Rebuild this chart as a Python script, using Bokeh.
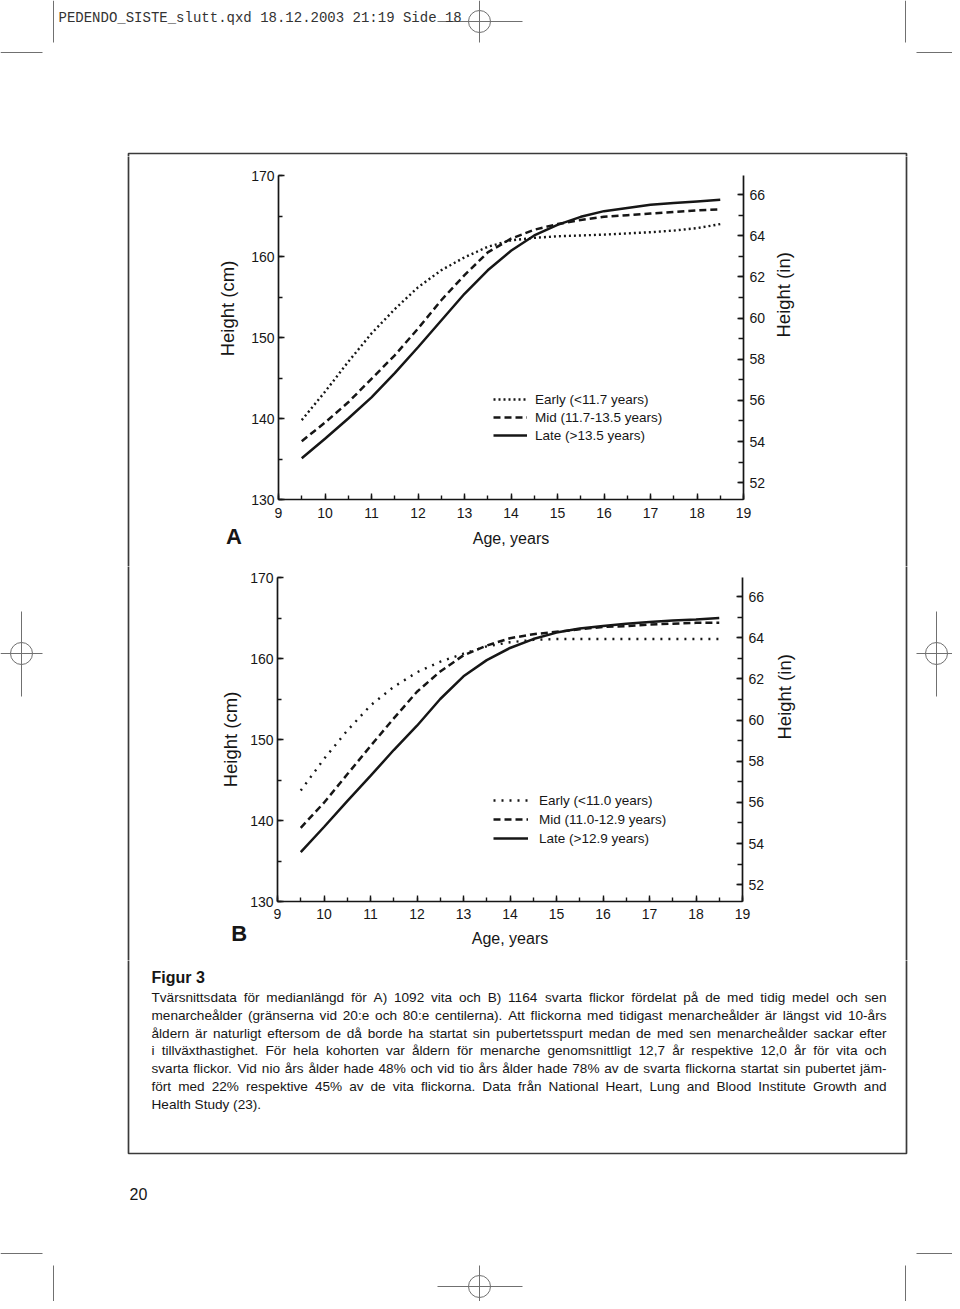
import math
from bokeh.plotting import figure
from bokeh.layouts import column, row
from bokeh.models import Range1d, LinearAxis, SingleIntervalTicker
from bokeh.embed import file_html
from bokeh.resources import INLINE
from bokeh.core.properties import value

# ---------------- data ----------------
ages = [9.5, 10.0, 10.5, 11.0, 11.5, 12.0, 12.5, 13.0, 13.5, 14.0,
        14.5, 15.0, 15.5, 16.0, 16.5, 17.0, 17.5, 18.0, 18.5]

# Panel A (white girls)
a_early = [139.8, 143.3, 147.0, 150.5, 153.5, 156.2, 158.3, 159.9, 161.2, 162.0,
           162.3, 162.5, 162.6, 162.7, 162.85, 163.0, 163.2, 163.5, 164.0]
a_mid = [137.2, 139.5, 142.0, 144.9, 147.8, 151.1, 154.6, 157.7, 160.5, 162.2,
         163.3, 164.0, 164.5, 164.9, 165.1, 165.3, 165.5, 165.7, 165.8]
a_late = [135.1, 137.5, 140.0, 142.6, 145.6, 148.8, 152.1, 155.4, 158.3, 160.7,
          162.6, 163.9, 164.9, 165.6, 166.0, 166.4, 166.6, 166.8, 167.0]

# Panel B (black girls)
b_early = [143.7, 147.6, 151.1, 154.2, 156.5, 158.3, 159.6, 160.6, 161.5, 162.0,
           162.3, 162.4, 162.4, 162.4, 162.4, 162.4, 162.4, 162.4, 162.4]
b_mid = [139.1, 142.2, 145.7, 149.2, 152.6, 155.9, 158.4, 160.4, 161.6, 162.5,
         163.0, 163.3, 163.6, 163.9, 164.0, 164.2, 164.3, 164.4, 164.4]
b_late = [136.1, 139.2, 142.4, 145.5, 148.7, 151.7, 155.0, 157.8, 159.8, 161.3,
          162.4, 163.2, 163.7, 164.0, 164.3, 164.5, 164.7, 164.8, 165.0]

legend_a = ["Early (<11.7 years)", "Mid (11.7-13.5 years)", "Late (>13.5 years)"]
legend_b = ["Early (<11.0 years)", "Mid (11.0-12.9 years)", "Late (>12.9 years)"]
panel_letters = ["A", "B"]

age_range = (9, 19)
cm_range = (130, 170)
CM_PER_INCH = 2.54
x_label = "Age, years"
y_label_cm = "Height (cm)"
y_label_in = "Height (in)"

header_text = "PEDENDO_SISTE_slutt.qxd  18.12.2003  21:19  Side 18"
caption_title = "Figur 3"
caption_lines = [
    "Tvärsnittsdata för medianlängd för A) 1092 vita och B) 1164 svarta flickor fördelat på de med tidig medel och sen",
    "menarcheålder (gränserna vid 20:e och 80:e centilerna). Att flickorna med tidigast menarcheålder är längst vid 10-års",
    "åldern är naturligt eftersom de då borde ha startat sin pubertetsspurt medan de med sen menarcheålder sackar efter",
    "i tillväxthastighet. För hela kohorten var åldern för menarche genomsnittligt 12,7 år respektive 12,0 år för vita och",
    "svarta flickor. Vid nio års ålder hade 48% och vid tio års ålder hade 78% av de svarta flickorna startat sin pubertet jäm-",
    "fört med 22% respektive 45% av de vita flickorna. Data från National Heart, Lung and Blood Institute Growth and",
    "Health Study (23).",
]
page_number = "20"

# ---------------- styling / page layout ----------------
FONT = "Liberation Sans"
INK = "#161616"
MARK = "#707070"
BOX_COLOR = "#3a3a3a"

BOX = (128, 153, 906, 1153)  # left, top, right, bottom (page px)
SEGMENTS = [(53, 0, 53, 42), (905, 0, 905, 42), (0, 52, 42, 52), (916, 52, 960, 52),
            (437, 21, 522, 21), (479, 0, 479, 42),
            (0, 653, 42, 653), (21, 611, 21, 696), (916, 653, 960, 653), (936, 611, 936, 696),
            (0, 1253, 42, 1253), (916, 1253, 960, 1253), (53, 1265, 53, 1309),
            (905, 1265, 905, 1309), (437, 1286, 522, 1286), (479, 1265, 479, 1309)]
CIRCLES = [(479, 21), (21, 653), (936, 653), (479, 1286)]

FULL_W = 952
TOP_H, ROWA_H, ROWB_H, BOTTOM_H = 156, 410, 394, 341
RIGHT_W = 132
FRAME_W, FRAME_H = 465, 324

# Arial / Liberation Sans advance widths (1/1000 em)
_W = {" ": 278, "!": 278, "%": 889, "(": 333, ")": 333, ",": 278, "-": 333, ".": 278,
      ":": 278, ";": 278, "<": 584, ">": 584,
      "A": 667, "B": 667, "C": 722, "D": 722, "E": 667, "F": 611, "G": 778, "H": 722,
      "I": 278, "J": 500, "K": 667, "L": 556, "M": 833, "N": 722, "O": 778, "P": 667,
      "Q": 778, "R": 722, "S": 667, "T": 611, "U": 722, "V": 667, "W": 944, "X": 667,
      "Y": 667, "Z": 611,
      "a": 556, "b": 556, "c": 500, "d": 556, "e": 556, "f": 278, "g": 556, "h": 556,
      "i": 222, "j": 222, "k": 500, "l": 222, "m": 833, "n": 556, "o": 556, "p": 556,
      "q": 556, "r": 333, "s": 500, "t": 278, "u": 556, "v": 500, "w": 722, "x": 500,
      "y": 500, "z": 500, "ä": 556, "å": 556, "ö": 556, "é": 556}


def text_em(s):
    return sum(_W.get(c, 556) for c in s) / 1000.0


def deco(x0, y0, w, h):
    p = figure(width=w, height=h, x_range=Range1d(x0, x0 + w), y_range=Range1d(y0 + h, y0),
               x_axis_type=None, y_axis_type=None, output_backend="svg", toolbar_location=None,
               min_border=0, outline_line_color=None, background_fill_color="white",
               border_fill_color="white", frame_align=False)
    p.quad(left=[BOX[0]], top=[BOX[1]], right=[BOX[2]], bottom=[BOX[3]],
           fill_color=None, line_color=BOX_COLOR, line_width=1.7)
    p.segment(x0=[s[0] for s in SEGMENTS], y0=[s[1] for s in SEGMENTS],
              x1=[s[2] for s in SEGMENTS], y1=[s[3] for s in SEGMENTS],
              line_color=MARK, line_width=1)
    p.scatter(x=[c[0] for c in CIRCLES], y=[c[1] for c in CIRCLES], size=22, marker="circle",
              fill_color=None, line_color=MARK, line_width=1)
    return p


def side_texts(p, title_xy, letter, letter_xy):
    # vertical axis title and panel letter, drawn in page coordinates
    p.text(x=[title_xy[0]], y=[title_xy[1]], text=[y_label_cm], angle=math.pi / 2,
           text_font=value(FONT), text_font_size="18.5px", text_color=INK,
           text_align="center", text_baseline="middle")
    p.text(x=[letter_xy[0]], y=[letter_xy[1]], text=[letter], text_font=value(FONT),
           text_font_style="bold", text_font_size="22px", text_color=INK,
           text_align="center", text_baseline="middle")


def style_axis(ax, label_standoff, tick_standoff, title_size):
    ax.axis_line_color = INK
    ax.axis_line_width = 1.7
    ax.major_tick_line_color = INK
    ax.minor_tick_line_color = INK
    ax.major_tick_line_width = 1.4
    ax.minor_tick_line_width = 1.4
    ax.major_tick_in = 6
    ax.major_tick_out = 0
    ax.minor_tick_in = 4
    ax.minor_tick_out = 0
    ax.major_label_text_font = FONT
    ax.major_label_text_font_size = "14px"
    ax.major_label_text_color = INK
    ax.major_label_standoff = tick_standoff
    ax.axis_label_text_font = FONT
    ax.axis_label_text_font_style = "normal"
    ax.axis_label_text_font_size = title_size
    ax.axis_label_text_color = INK
    ax.axis_label_standoff = label_standoff


def chart(early, mid, late, labels, w, h, bl, bt, dots, legend_loc, glyph_w,
          legend_standoff, legend_spacing, stand):
    p = figure(width=w, height=h,
               x_range=Range1d(*age_range), y_range=Range1d(*cm_range),
               output_backend="svg", toolbar_location=None,
               min_border_left=bl, min_border_right=w - bl - FRAME_W,
               min_border_top=bt, min_border_bottom=h - bt - FRAME_H,
               outline_line_color=None, background_fill_color="white",
               border_fill_color="white", frame_align=False)
    p.xgrid.visible = False
    p.ygrid.visible = False
    xa = p.below[0]
    ya = p.left[0]
    xa.ticker = SingleIntervalTicker(interval=1, num_minor_ticks=2)
    ya.ticker = SingleIntervalTicker(interval=10, num_minor_ticks=2)
    xa.axis_label = x_label
    style_axis(xa, stand["x_title"], stand["x_tick"], "16px")
    style_axis(ya, 0, 4, "18.5px")

    p.extra_y_ranges = {"inch": Range1d(cm_range[0] / CM_PER_INCH, cm_range[1] / CM_PER_INCH)}
    ra = LinearAxis(y_range_name="inch", ticker=SingleIntervalTicker(interval=2, num_minor_ticks=2),
                    axis_label=y_label_in)
    style_axis(ra, stand["r_title"], 6, "18.5px")
    ra.minor_tick_in = 5
    ra.axis_label_orientation = math.pi / 2
    p.add_layout(ra, "right")

    p.line(ages, early, line_color=INK, line_width=2.4, line_dash=dots, legend_label=labels[0])
    p.line(ages, mid, line_color=INK, line_width=2.5, line_dash="7 4", legend_label=labels[1])
    p.line(ages, late, line_color=INK, line_width=2.5, legend_label=labels[2])

    lg = p.legend[0]
    lg.location = legend_loc
    lg.border_line_color = None
    lg.background_fill_alpha = 0
    lg.padding = 0
    lg.margin = 0
    lg.spacing = legend_spacing
    lg.glyph_width = glyph_w
    lg.glyph_height = 18
    lg.label_height = 18
    lg.label_standoff = legend_standoff
    lg.label_text_font = FONT
    lg.label_text_font_size = "13.5px"
    lg.label_text_color = INK
    return p


# ---------------- top strip ----------------
top = deco(0, 0, FULL_W, TOP_H)
top.text(x=[58], y=[17], text=[header_text], text_font=value("Liberation Mono"),
         text_font_size="14px", text_color="#333333", text_baseline="alphabetic")

# ---------------- panel A row ----------------
ya0 = TOP_H
LEFT_A = 243
chart_a = chart(a_early, a_mid, a_late, legend_a, FULL_W - LEFT_A - RIGHT_W, ROWA_H,
                278 - LEFT_A, 19, "2 3", (215, 55), 34, 8, 0,
                {"x_title": 9, "x_tick": 8, "r_title": 15})
left_a = deco(0, ya0, LEFT_A, ROWA_H)
side_texts(left_a, (227, 308), panel_letters[0], (233.5, 536))
row_a = row(left_a, chart_a, deco(FULL_W - RIGHT_W, ya0, RIGHT_W, ROWA_H))

# ---------------- panel B row ----------------
yb0 = ya0 + ROWA_H
LEFT_B = 247
chart_b = chart(b_early, b_mid, b_late, legend_b, FULL_W - LEFT_B - RIGHT_W, ROWB_H,
                277 - LEFT_B, 11, "2 6", (216, 54), 35, 11, 1,
                {"x_title": 8, "x_tick": 7, "r_title": 17})
left_b = deco(0, yb0, LEFT_B, ROWB_H)
side_texts(left_b, (229.6, 739), panel_letters[1], (238.8, 933.3))
row_b = row(left_b, chart_b, deco(FULL_W - RIGHT_W, yb0, RIGHT_W, ROWB_H))

# ---------------- bottom strip with caption ----------------
yc0 = yb0 + ROWB_H
bottom = deco(0, yc0, FULL_W, BOTTOM_H)
bottom.text(x=[151], y=[977], text=[caption_title], text_font=value(FONT),
            text_font_style="bold", text_font_size="16px", text_color=INK,
            text_baseline="alphabetic")

CAP_X0, CAP_X1 = 151, 886
CAP_BASE0, CAP_STEP = 997.3, 17.7
justified = caption_lines[:-1]
fs = min(13.6, (CAP_X1 - CAP_X0) / max(text_em(l) for l in justified) * 0.995)
wx, wy, wt = [], [], []
for i, line in enumerate(justified):
    words = line.split(" ")
    widths = [text_em(w) * fs for w in words]
    gap = (CAP_X1 - CAP_X0 - sum(widths)) / (len(words) - 1)
    x = CAP_X0
    for w, ww in zip(words, widths):
        wx.append(x)
        wy.append(CAP_BASE0 + i * CAP_STEP)
        wt.append(w)
        x += ww + gap
wx.append(CAP_X0)
wy.append(CAP_BASE0 + (len(caption_lines) - 1) * CAP_STEP)
wt.append(caption_lines[-1])
bottom.text(x=wx, y=wy, text=wt, text_font=value(FONT), text_font_size=f"{fs:.2f}px",
            text_color=INK, text_baseline="alphabetic")
bottom.text(x=[129], y=[1193], text=[page_number], text_font=value(FONT),
            text_font_size="16px", text_color=INK, text_baseline="alphabetic")

layout = column(top, row_a, row_b, bottom)

with open("out.html", "w", encoding="utf-8") as f:
    f.write(file_html(layout, INLINE, title="Figur 3"))
